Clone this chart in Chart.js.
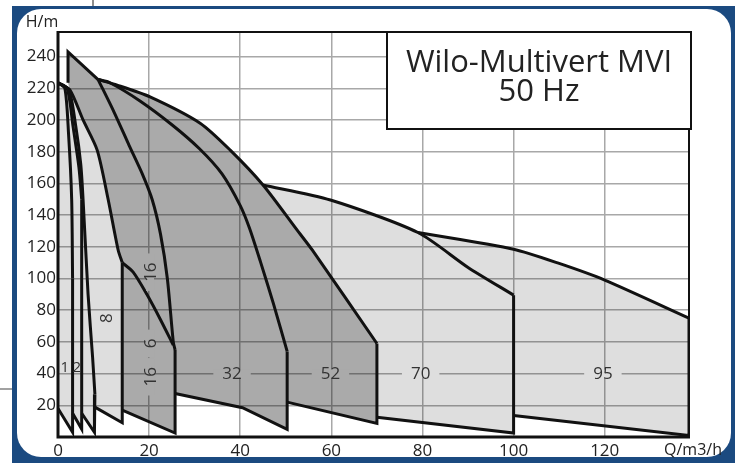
<!DOCTYPE html>
<html>
<head>
<meta charset="utf-8">
<script src="https://cdn.jsdelivr.net/npm/chart.js@4.4.1/dist/chart.umd.min.js"></script>
<style>
  html, body { margin: 0; padding: 0; background: #fff; }
  #wrap { width: 743px; height: 463px; }
</style>
</head>
<body>
<div id="wrap"><canvas id="pumpChart"></canvas></div>
<script>
// Wilo-Multivert MVI, 50 Hz - Q in m3/h, H in m
const qMax = 138.5;
const hMax = 255.5;

// max-stage curves, top edge of each family
const upper1 = [[0, 223.5], [1.5, 220], [2.3, 192], [3.0, 150], [3.2, 100]];
const upper2 = [[0, 223.5], [2.0, 220], [3.3, 196], [4.6, 170], [5.2, 150]];
const upper5 = [[0, 223.5], [2.4, 219], [3.9, 196], [5.0, 172], [5.5, 150], [6.6, 90], [7.6, 50], [8.1, 27]];
const upper8 = [[0, 223.5], [2.6, 219], [5.5, 200], [8.6, 181], [11, 150], [13.2, 118], [14.1, 110]];
const upper16 = [[8.8, 225.5], [12.3, 205], [15.6, 184], [18.5, 166], [20.7, 149.5], [22.5, 128], [24, 100], [25.3, 60], [25.7, 55]];
const inner16 = [[14.1, 110], [16.5, 104], [19.5, 90], [22.5, 74], [25.3, 58]];
const upper32 = [[8.8, 225.5], [11.4, 223.5], [18, 212], [25, 197], [31, 182], [36, 166], [40, 146], [42, 132], [44.5, 110], [47.3, 84], [50.3, 54]];
const spike52 = [[2.2, 223.5], [2.2, 243], [8.8, 225.5]];
const upper52 = [[8.8, 225.5], [13, 222], [20.2, 214.6], [31.2, 198], [37.8, 181], [45, 159], [52.5, 130.5], [55.8, 118], [70, 59]];
const upper70 = [[45, 159], [59.8, 149.5], [79, 129], [90, 107], [100, 89.5]];
const upper95 = [[79, 129], [100, 118.5], [110, 109.5], [120, 99], [138.5, 75]];

// min-stage curves, bottom edge of each family
const lower1 = [[0, 18], [3.2, 3]];
const lower2 = [[3.2, 15], [5.2, 5]];
const lower5 = [[5.2, 15], [8.0, 3]];
const lower8 = [[8.0, 19], [14.1, 9]];
const lower16 = [[14.1, 17], [25.7, 2.5]];
const lower32 = [[25.7, 27.5], [40.5, 18.5], [50.3, 4.8]];
const lower52 = [[50.3, 22], [70, 8.6]];
const lower70 = [[70, 12.4], [100, 2.5]];
const lower95 = [[100, 13.6], [138.5, 1]];

// family labels
const labelText = ['1', '2', '8', '16', '6', '16', '32', '52', '70', '95'];
const labelQ = [1.5, 4.1, 10.5, 20.2, 20.2, 20.2, 38.2, 59.8, 79.6, 119.6];
const labelH = [44.5, 44.5, 75, 104, 59, 38, 40, 40, 40, 40];

const rev = a => a.slice().reverse();
const last = a => a[a.length - 1];
const toXY = a => a.map(p => ({ x: p[0], y: p[1] }));

// filled zones
const lightSmall = [...upper8, ...rev(lower8), ...rev(lower5), ...rev(lower2), ...rev(lower1)];
const darkZone = [...spike52, ...upper52.slice(1), ...rev(lower52), ...rev(lower32), ...rev(lower16), ...rev(upper8).slice(0, -1)];
const lightBig = [
  ...upper70.filter(p => p[0] <= 79), ...upper95.filter(p => p[0] > 79),
  ...rev(lower95), ...rev(lower70), ...rev(upper52.filter(p => p[0] >= 45))
];

const LIGHT_A = 0.13, DARK_A = 0.333;

function area(pts, alpha) {
  return {
    data: toXY(pts), fill: 'shape', backgroundColor: 'rgba(0,0,0,' + alpha + ')',
    borderColor: 'transparent', borderWidth: 0, pointRadius: 0, order: 2
  };
}
function curve(pts, tension) {
  return {
    data: toXY(pts), fill: false, borderColor: '#111', borderWidth: 3,
    pointRadius: 0, tension: tension || 0, order: 0
  };
}
// a family: smooth max-stage curve, straight right edge and min-stage line
function family(upper, lower) {
  return [curve(upper, 0.25), curve([last(upper), ...rev(lower)])];
}

const datasets = [
  area(lightSmall, LIGHT_A),
  area(darkZone, DARK_A),
  area(lightBig, LIGHT_A),
  ...family(upper1, lower1),
  ...family(upper2, lower2),
  ...family(upper5, lower5),
  ...family(upper8, lower8),
  ...family(upper16, lower16),
  curve(inner16, 0.25),
  ...family(upper32, lower32),
  curve(spike52),
  ...family(upper52, lower52),
  ...family(upper70, lower70),
  ...family(upper95, lower95)
];

const FONT = "'Open Sans', 'DejaVu Sans', sans-serif";

const framePlugin = {
  id: 'frame',
  beforeDraw(chart) {
    const ctx = chart.ctx;
    ctx.save();
    ctx.fillStyle = '#fff';
    ctx.fillRect(0, 0, chart.width, chart.height);
    ctx.fillStyle = '#1b4a80';
    ctx.fillRect(12, 6, 723, 462);
    // white rounded panel
    const l = 17, t = 9, r = 731, b = 457, rad = 24;
    ctx.fillStyle = '#fff';
    ctx.beginPath();
    ctx.moveTo(l + rad, t);
    ctx.lineTo(r - rad, t);
    ctx.arcTo(r, t, r, t + rad, rad);
    ctx.lineTo(r, b - rad);
    ctx.arcTo(r, b, r - rad, b, rad);
    ctx.lineTo(l + rad, b);
    ctx.arcTo(l, b, l, b - rad, rad);
    ctx.lineTo(l, t + rad);
    ctx.arcTo(l, t, l + rad, t, rad);
    ctx.closePath();
    ctx.fill();
    // stray cut lines at the image edge
    ctx.strokeStyle = '#444';
    ctx.lineWidth = 1.2;
    ctx.beginPath();
    ctx.moveTo(93, 0); ctx.lineTo(93, 6);
    ctx.moveTo(0, 389); ctx.lineTo(12, 389);
    ctx.stroke();
    ctx.restore();
  },
  afterDatasetsDraw(chart) {
    const { ctx, chartArea: a, scales } = chart;
    ctx.save();
    // family labels
    ctx.textAlign = 'center';
    ctx.textBaseline = 'middle';
    const rotated = ['8', '16', '6'];
    labelText.forEach((t, i) => {
      const px = scales.x.getPixelForValue(labelQ[i]);
      const py = scales.y.getPixelForValue(labelH[i]);
      ctx.save();
      ctx.translate(px, py);
      if (rotated.includes(t)) ctx.rotate(-Math.PI / 2);
      ctx.font = (labelQ[i] < 8 ? '15px ' : '17px ') + FONT;
      const w = ctx.measureText(t).width;
      if (labelQ[i] > 14) {
        const dark = labelQ[i] < 70;
        const c = Math.round(255 * (1 - (dark ? DARK_A : LIGHT_A)));
        ctx.fillStyle = 'rgb(' + c + ',' + c + ',' + c + ')';
        ctx.fillRect(-w / 2 - 9, -4, w + 18, 8);
      }
      ctx.fillStyle = '#333';
      ctx.fillText(t, 0, 1);
      ctx.restore();
    });
    // plot frame
    ctx.strokeStyle = '#111';
    ctx.lineWidth = 2;
    ctx.beginPath();
    ctx.moveTo(a.left, a.top); ctx.lineTo(a.right, a.top); ctx.lineTo(a.right, a.bottom);
    ctx.stroke();
    ctx.lineWidth = 3;
    ctx.beginPath();
    ctx.moveTo(a.left, a.top - 1); ctx.lineTo(a.left, a.bottom); ctx.lineTo(a.right + 1, a.bottom);
    ctx.stroke();
    ctx.restore();
  },
  afterDraw(chart) {
    const { ctx, chartArea: a } = chart;
    ctx.save();
    // title box
    ctx.fillStyle = '#fff';
    ctx.fillRect(387, a.top, 304, 97);
    ctx.strokeStyle = '#111';
    ctx.lineWidth = 2;
    ctx.strokeRect(387, a.top, 304, 97);
    ctx.fillStyle = '#222';
    ctx.textAlign = 'center';
    ctx.textBaseline = 'alphabetic';
    ctx.font = '31px ' + FONT;
    ctx.fillText('Wilo-Multivert MVI', 539, 72);
    ctx.fillText('50 Hz', 539, 101);
    // axis units
    ctx.font = '16px ' + FONT;
    ctx.textBaseline = 'middle';
    ctx.fillText('H/m', 42, 22);
    ctx.fillText('Q/m3/h', 693, 450);
    ctx.restore();
  }
};

new Chart(document.getElementById('pumpChart'), {
  type: 'line',
  data: { datasets },
  options: {
    responsive: true,
    maintainAspectRatio: false,
    animation: false,
    layout: { padding: { left: 0, top: 32, right: 54, bottom: 0 } },
    plugins: { legend: { display: false }, tooltip: { enabled: false } },
    scales: {
      x: {
        type: 'linear', min: 0, max: qMax,
        afterFit: s => { s.height = 26; },
        grid: { color: '#a8a8a8', lineWidth: 1.5, drawTicks: false },
        border: { display: false },
        ticks: { stepSize: 20, includeBounds: false, padding: 4, color: '#222', font: { family: FONT, size: 17 } }
      },
      y: {
        type: 'linear', min: 0, max: hMax,
        afterFit: s => { s.width = 58; },
        grid: { color: '#a8a8a8', lineWidth: 1.5, drawTicks: false },
        border: { display: false },
        ticks: {
          stepSize: 20, includeBounds: false, padding: 2, color: '#222', font: { family: FONT, size: 17 },
          callback: v => (v === 0 ? '' : v)
        }
      }
    }
  },
  plugins: [framePlugin]
});
</script>
</body>
</html>
